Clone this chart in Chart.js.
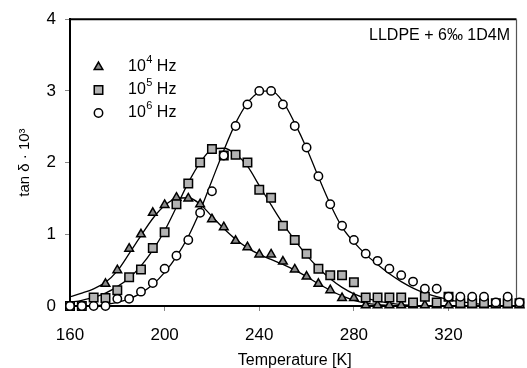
<!DOCTYPE html>
<html>
<head>
<meta charset="utf-8">
<script src="https://cdn.jsdelivr.net/npm/chart.js@4.4.0/dist/chart.umd.min.js"></script>
<style>
  html, body { margin: 0; padding: 0; background: #fff; }
  #wrap { width: 527px; height: 368px; }
</style>
</head>
<body>
<div id="wrap"><canvas id="lossPlot"></canvas></div>
<script>
// measured temperatures (K)
const tempK = [160, 165, 170, 175, 180, 185, 190, 195, 200, 205, 210, 215, 220, 225, 230,
               235, 240, 245, 250, 255, 260, 265, 270, 275, 280, 285, 290, 295, 300, 305,
               310, 315, 320, 325, 330, 335, 340, 345, 350];

// tan delta * 10^3 at 10^4, 10^5, 10^6 Hz
const tan1e4 = [null, null, null, 0.31, 0.5, 0.8, 1.0, 1.3, 1.41, 1.51, 1.5, 1.42, 1.21, 1.1, 0.91,
                0.82, 0.72, 0.72, 0.62, 0.51, 0.41, 0.31, 0.22, 0.11, 0.11, 0.01, 0.01, 0.01, 0.01, 0.01,
                0.01, 0.01, 0.01, 0.01, 0.01, 0.01, 0.01, 0.01, 0.01];
const tan1e5 = [0, 0, 0.12, 0.11, 0.22, 0.4, 0.51, 0.81, 1.03, 1.42, 1.71, 2.0, 2.19, 2.1, 2.11,
                2.0, 1.62, 1.51, 1.12, 0.92, 0.73, 0.52, 0.43, 0.43, 0.33, 0.12, 0.12, 0.12, 0.12, 0.05,
                0.13, 0.05, 0.13, 0.04, 0.04, 0.04, 0.04, 0.04, 0.04];
const tan1e6 = [0, 0, 0, 0, 0.1, 0.1, 0.2, 0.32, 0.52, 0.7, 0.92, 1.3, 1.6, 2.1, 2.51,
                2.81, 3.0, 3.0, 2.81, 2.51, 2.21, 1.81, 1.42, 1.12, 0.92, 0.73, 0.63, 0.52, 0.43, 0.34,
                0.24, 0.24, 0.13, 0.13, 0.13, 0.13, 0.05, 0.13, 0.05];

// fitted curves
const fitT1e4 = [160, 165, 170, 175, 180, 185, 190, 195, 200, 205, 210, 215, 220, 225, 230,
                 235, 240, 245, 250, 255, 260, 265, 270, 275, 280, 285, 290, 295, 300];
const fit1e4 = [0.13, 0.18, 0.24, 0.33, 0.49, 0.73, 0.98, 1.22, 1.4, 1.5, 1.51, 1.42, 1.25, 1.08, 0.93,
                0.81, 0.72, 0.65, 0.58, 0.5, 0.41, 0.31, 0.22, 0.14, 0.08, 0.04, 0.02, 0.01, 0];
const fitT1e5 = [160, 165, 170, 175, 180, 185, 190, 195, 200, 205, 210, 215, 220, 225, 230,
                 235, 240, 245, 250, 255, 260, 265, 270, 275, 280, 285, 290, 295, 300, 305, 310];
const fit1e5 = [0.05, 0.08, 0.12, 0.18, 0.27, 0.39, 0.56, 0.78, 1.05, 1.38, 1.72, 2.0, 2.18, 2.2, 2.12,
                1.95, 1.68, 1.41, 1.15, 0.92, 0.71, 0.53, 0.38, 0.26, 0.17, 0.11, 0.07, 0.04, 0.02, 0.01, 0];
const fitT1e6 = [170, 175, 180, 185, 190, 195, 200, 205, 210, 215, 220, 225, 230, 235, 240,
                 245, 250, 255, 260, 265, 270, 275, 280, 285, 290, 295, 300, 305, 310, 315,
                 320, 325, 330, 335];
const fit1e6 = [0, 0.02, 0.05, 0.1, 0.18, 0.3, 0.47, 0.69, 0.97, 1.33, 1.75, 2.17, 2.55, 2.83, 2.98,
                3.0, 2.85, 2.55, 2.2, 1.8, 1.42, 1.1, 0.89, 0.72, 0.58, 0.45, 0.34, 0.25, 0.18, 0.13,
                0.09, 0.06, 0.04, 0.02];

const xTicks = [160, 200, 240, 280, 320];
const yTicks = [0, 1, 2, 3, 4];
const freqExp = ['4', '5', '6'];
const sampleName = 'LLDPE + 6‰ 1D4M';

const FONT = "'Liberation Sans', Arial, sans-serif";

function pairs(xs, ys) {
    return xs.map((x, i) => ({ x: x, y: ys[i] })).filter(p => p.y !== null);
}

function markerSet(label, values, style, radius, fill, order) {
    return {
        label: label,
        data: pairs(tempK, values),
        showLine: false,
        pointStyle: style,
        pointRadius: radius,
        backgroundColor: fill,
        borderColor: '#000',
        borderWidth: 1.5,
        clip: false,
        order: order
    };
}

function fitLine(xs, ys) {
    return {
        data: pairs(xs, ys),
        showLine: true,
        pointRadius: 0,
        borderColor: '#000',
        borderWidth: 1.3,
        cubicInterpolationMode: 'monotone',
        fill: false,
        order: 10,
        isFit: true
    };
}

// top and right edges of the plot box
const frameBox = {
    id: 'frameBox',
    beforeDatasetsDraw(chart) {
        const { ctx, chartArea: a } = chart;
        ctx.save();
        ctx.strokeStyle = '#000';
        ctx.lineWidth = 2;
        ctx.beginPath();
        ctx.moveTo(a.left, a.top);
        ctx.lineTo(a.right - 3, a.top);
        ctx.stroke();
        ctx.strokeStyle = '#555';
        ctx.lineWidth = 1.2;
        ctx.beginPath();
        ctx.moveTo(a.right - 3, a.top);
        ctx.lineTo(a.right - 3, a.bottom);
        ctx.stroke();
        ctx.restore();
    }
};

// legend block with superscripted frequencies, plus sample label
const sideNotes = {
    id: 'sideNotes',
    afterDatasetsDraw(chart) {
        const ctx = chart.ctx;
        const markers = chart.data.datasets.filter(d => !d.isFit);
        ctx.save();
        markers.forEach((ds, i) => {
            const y = 67 + i * 23;
            ctx.fillStyle = ds.backgroundColor;
            ctx.strokeStyle = ds.borderColor;
            ctx.lineWidth = ds.borderWidth;
            Chart.helpers.drawPoint(ctx, {
                pointStyle: ds.pointStyle,
                radius: ds.pointRadius,
                rotation: 0,
                borderWidth: ds.borderWidth
            }, 98.5, y);

            ctx.fillStyle = '#000';
            ctx.textBaseline = 'middle';
            ctx.textAlign = 'left';
            ctx.font = '16px ' + FONT;
            let x = 128;
            ctx.fillText('10', x, y);
            x += ctx.measureText('10').width + 0.5;
            ctx.font = '11px ' + FONT;
            ctx.fillText(freqExp[i], x, y - 7);
            x += ctx.measureText(freqExp[i]).width;
            ctx.font = '16px ' + FONT;
            ctx.fillText(' Hz', x, y);
        });
        ctx.font = '16px ' + FONT;
        ctx.textAlign = 'right';
        ctx.textBaseline = 'middle';
        ctx.fillStyle = '#000';
        ctx.fillText(sampleName, 510, 36);
        ctx.restore();
    }
};

new Chart(document.getElementById('lossPlot'), {
    type: 'scatter',
    data: {
        datasets: [
            markerSet('10⁴ Hz', tan1e4, 'triangle', 5, '#8a8a8a', 3),
            markerSet('10⁵ Hz', tan1e5, 'rect', 6, '#b3b3b3', 2),
            markerSet('10⁶ Hz', tan1e6, 'circle', 4.2, '#ffffff', 1),
            fitLine(fitT1e4, fit1e4),
            fitLine(fitT1e5, fit1e5),
            fitLine(fitT1e6, fit1e6)
        ]
    },
    options: {
        animation: false,
        responsive: true,
        maintainAspectRatio: false,
        events: [],
        layout: { padding: { top: 15, right: 0, bottom: 0, left: 0 } },
        plugins: {
            legend: { display: false },
            tooltip: { enabled: false }
        },
        scales: {
            x: {
                type: 'linear',
                min: 160,
                max: 350,
                afterBuildTicks: (scale) => { scale.ticks = xTicks.map(v => ({ value: v })); },
                afterFit: (scale) => { scale.height = 62; },
                grid: { drawOnChartArea: false, drawTicks: true, tickLength: 5, color: '#888' },
                border: { display: true, color: '#000', width: 2 },
                ticks: {
                    color: '#000',
                    padding: 14,
                    maxRotation: 0,
                    font: { family: FONT, size: 17 }
                },
                title: {
                    display: true,
                    text: 'Temperature [K]',
                    color: '#000',
                    padding: { top: 0, bottom: 0 },
                    font: { family: FONT, size: 16, lineHeight: 0.9 }
                }
            },
            y: {
                min: 0,
                max: 4,
                afterBuildTicks: (scale) => { scale.ticks = yTicks.map(v => ({ value: v })); },
                afterFit: (scale) => { scale.width = 70; },
                grid: { drawOnChartArea: false, drawTicks: true, tickLength: 5, color: '#888' },
                border: { display: true, color: '#000', width: 2 },
                ticks: {
                    color: '#000',
                    padding: 9,
                    font: { family: FONT, size: 17 }
                },
                title: {
                    display: true,
                    text: 'tan δ · 10³',
                    color: '#000',
                    padding: { top: 16, bottom: 0 },
                    font: { family: FONT, size: 15, lineHeight: 1.2 }
                }
            }
        }
    },
    plugins: [frameBox, sideNotes]
});
</script>
</body>
</html>
